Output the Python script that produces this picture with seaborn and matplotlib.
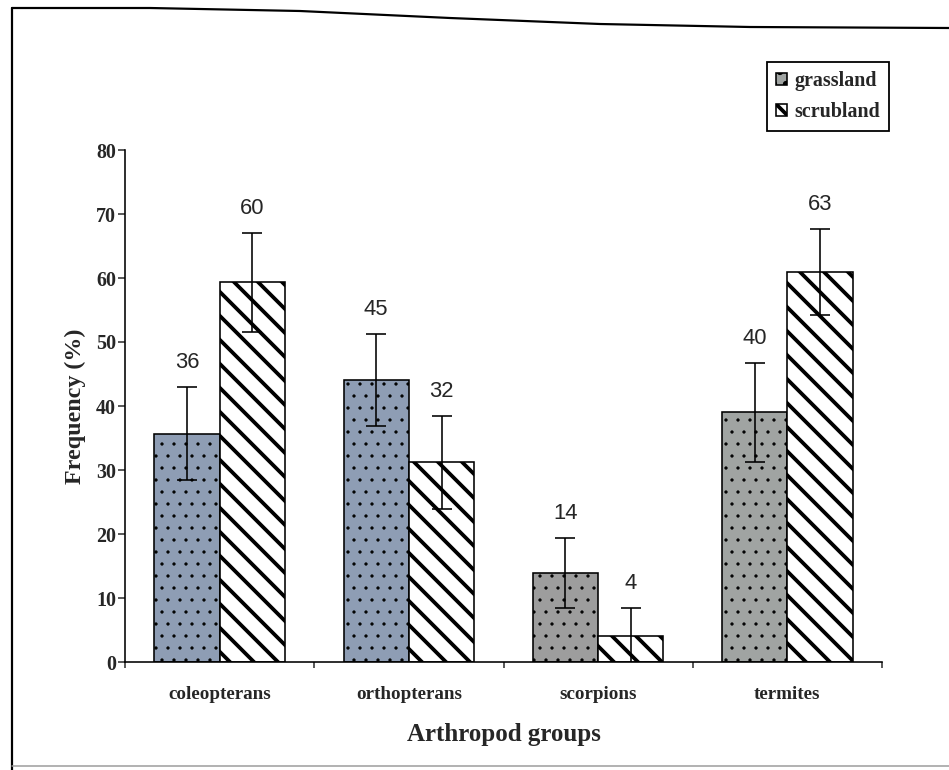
import numpy as np
import pandas as pd
import matplotlib
matplotlib.use("Agg")
import matplotlib.pyplot as plt
from matplotlib.lines import Line2D
import seaborn as sns

# ---------------------------------------------------------------
# DATA
# ---------------------------------------------------------------
groups = ["coleopterans", "orthopterans", "scorpions", "termites"]
habitats = ["grassland", "scrubland"]

grassland_freq = [35.7, 44.1, 13.9, 39.0]
scrubland_freq = [59.3, 31.2, 4.1, 60.9]

grassland_err = [7.2, 7.2, 5.5, 7.7]
scrubland_err = [7.7, 7.3, 4.4, 6.7]

grassland_labels = ["36", "45", "14", "40"]
scrubland_labels = ["60", "32", "4", "63"]

grassland_fill = ["#8e9db4", "#8e9db4", "#9d9d9d", "#a0a4a2"]

df = pd.DataFrame({
    "group": groups * 2,
    "habitat": ["grassland"] * 4 + ["scrubland"] * 4,
    "freq": grassland_freq + scrubland_freq,
})

# ---------------------------------------------------------------
# PLOT  (dpi 72 so one point == one pixel, and hatch tile = 72 px)
# ---------------------------------------------------------------
sns.set_style("white")
plt.rcParams["font.family"] = ["Liberation Serif", "DejaVu Serif"]
plt.rcParams["hatch.linewidth"] = 3.8

W, H = 949, 770
fig = plt.figure(figsize=(W / 72, H / 72), dpi=72)
ax = fig.add_axes([125 / W, 1 - 662 / H, (882 - 125) / W, (662 - 150) / H])

sns.barplot(data=df, x="group", y="freq", hue="habitat", order=groups,
            hue_order=habitats, palette=["#9d9d9d", "white"], saturation=1,
            width=0.69, errorbar=None, edgecolor="black", linewidth=1.6,
            ax=ax, legend=False)

for bar, col in zip(ax.containers[0], grassland_fill):
    bar.set_facecolor(col)
    bar.set_hatch(".")
    if hasattr(bar, "set_hatch_linewidth"):
        bar.set_hatch_linewidth(0.8)
for bar in ax.containers[1]:
    bar.set_hatch("\\")
    if hasattr(bar, "set_hatch_linewidth"):
        bar.set_hatch_linewidth(3.8)

# error bars and value labels on top of the library-placed bars
for cont, errs, labels in [(ax.containers[0], grassland_err, grassland_labels),
                           (ax.containers[1], scrubland_err, scrubland_labels)]:
    for bar, e, lab in zip(cont, errs, labels):
        xc = bar.get_x() + bar.get_width() / 2
        h = bar.get_height()
        ax.errorbar(xc, h, yerr=e, fmt="none", ecolor="black", elinewidth=1.6,
                    capsize=10, capthick=1.6, zorder=5)
        ax.text(xc, h + e + 2.2, lab, ha="center", va="bottom",
                fontsize=22, family="Liberation Sans")

ax.set_ylim(0, 80)
ax.set_xlim(-0.5, 3.5)
ax.set_yticks(np.arange(0, 81, 10))
ax.set_xticks(range(4))
ax.set_xticks(np.arange(-0.5, 4, 1), minor=True)
ax.set_xticklabels(groups, fontsize=19, fontweight="bold")
ax.tick_params(axis="y", labelsize=20, length=7, width=1.5, direction="out",
               left=True, pad=2)
for t in ax.get_yticklabels():
    t.set_fontweight("bold")
ax.tick_params(axis="x", which="major", length=0, pad=24)
ax.tick_params(axis="x", which="minor", length=6, width=1.5, direction="out",
               bottom=True)

for side in ["top", "right"]:
    ax.spines[side].set_visible(False)
for side in ["left", "bottom"]:
    ax.spines[side].set_color("black")
    ax.spines[side].set_linewidth(1.6)

ax.set_xlabel("Arthropod groups", fontsize=25, fontweight="bold", labelpad=20)
ax.set_ylabel("Frequency (%)", fontsize=24, fontweight="bold", labelpad=10)

handles = [ax.containers[0][3], ax.containers[1][0]]
leg = ax.legend(handles, habitats, loc="upper right",
                bbox_to_anchor=(889 / W, 1 - 62 / H),
                bbox_transform=fig.transFigure, frameon=True, fancybox=False,
                edgecolor="black", framealpha=1,
                prop={"weight": "bold", "size": 20},
                handlelength=0.55, handleheight=0.55, handletextpad=0.35,
                borderpad=0.45, labelspacing=0.55, borderaxespad=0)
leg.get_frame().set_linewidth(1.8)

# outer frame of the scanned page
top_x = np.array([12, 150, 300, 450, 600, 750, 949])
top_y = np.array([8, 8, 11, 18, 24, 27, 28])
fig.add_artist(Line2D(top_x / W, 1 - top_y / H, color="black", lw=2.2,
                      transform=fig.transFigure))
fig.add_artist(Line2D([12 / W, 12 / W], [1 - 8 / H, 0], color="black",
                      lw=2.2, transform=fig.transFigure))
fig.add_artist(Line2D([12 / W, 1], [1 - 766 / H, 1 - 766 / H], color="#9a9a9a",
                      lw=1.5, transform=fig.transFigure))

fig.savefig("out.png", dpi=72)
plt.close(fig)
